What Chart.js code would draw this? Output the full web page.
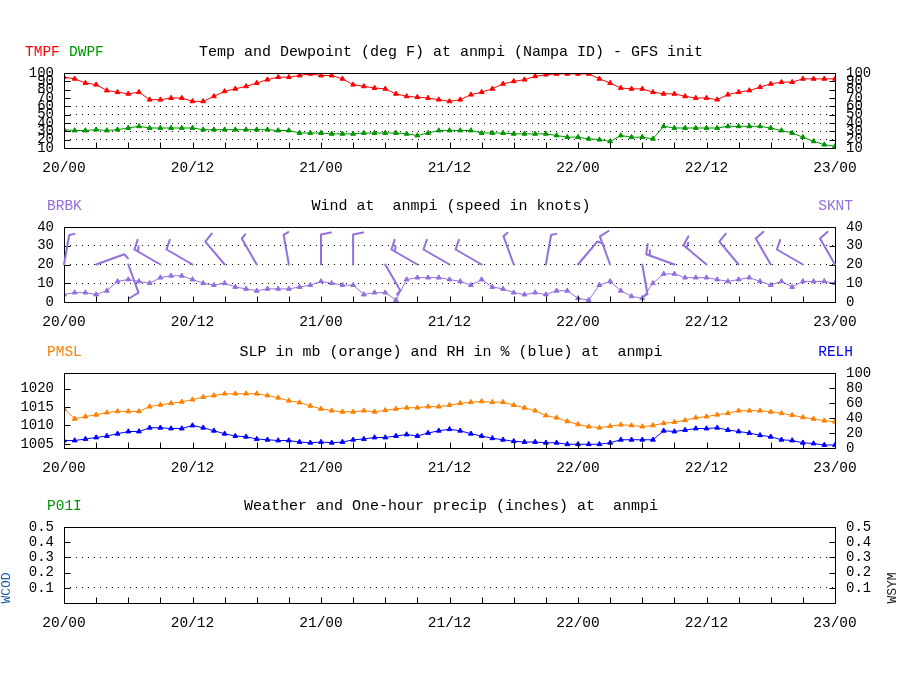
<!DOCTYPE html>
<html>
<head>
<meta charset="utf-8">
<script src="https://cdn.jsdelivr.net/npm/chart.js@4.4.1/dist/chart.umd.min.js"></script>
<style>
  body { margin: 0; background: #fff; width: 900px; height: 700px; position: relative; overflow: hidden; }
  canvas { position: absolute; left: 0; }
</style>
</head>
<body>
<canvas id="cTemp" width="900" height="148" style="top:30px"></canvas>
<canvas id="cVento" width="900" height="148" style="top:184px"></canvas>
<canvas id="cPressao" width="900" height="148" style="top:330px"></canvas>
<canvas id="cChuva" width="900" height="149" style="top:484px"></canvas>
<script>
// ==========================================
// DADOS (horário, 20/00 -> 23/00)
// ==========================================
const rotulosTempo = ['20/00', '20/12', '21/00', '21/12', '22/00', '22/12', '23/00'];

const tmpf = [95, 93, 88, 86, 79, 77, 75, 77, 68, 68, 70, 70, 66, 66, 72, 78, 81, 84, 88, 92,
              95, 95, 97, 99, 97, 97, 93, 86, 84, 82, 81, 75, 72, 71, 70, 68, 66,
              68, 74, 77, 81, 87, 90, 92, 96, 98, 99, 99, 99, 99, 93, 88, 82, 81, 81, 77, 75,
              75, 72, 70, 70, 68, 74, 77, 79, 83, 87, 89, 89, 93, 93, 93, 93];

const dwpf = [32, 31, 31, 32, 31, 32, 34, 36, 34, 34, 34, 34, 34, 32, 32, 32, 32, 32, 32, 32,
              31, 31, 28, 28, 28, 27, 27, 27, 28, 28, 28, 28, 27, 25, 28, 31, 31,
              31, 31, 28, 28, 28, 27, 27, 27, 27, 25, 23, 23, 21, 20, 18, 25, 23, 23, 21, 36,
              34, 34, 34, 34, 34, 36, 36, 36, 36, 34, 31, 28, 23, 18, 14, 12];

const sknt = [4, 5, 5, 4, 6, 11, 12, 11, 10, 13, 14, 14, 12, 10, 9, 10, 8, 7, 6, 7,
              7, 7, 8, 9, 11, 10, 9, 9, 4, 5, 5, 1, 12, 13, 13, 13, 12,
              11, 9, 12, 8, 7, 5, 4, 5, 4, 6, 6, 2, 1, 9, 11, 6, 3, 2, 10, 15,
              15, 13, 13, 13, 12, 11, 12, 13, 11, 9, 11, 8, 11, 11, 11, 10];

// direção do vento (graus) a cada 3 horas, para as barbelas
const drct = [10, 70, 160, 300, 300, 320, 330, 350, 0, 0, 150, 300, 300,
              300, 340, 10, 40, 340, 170, 290, 310, 320, 330, 300, 330];

const pmsl = [1014.5, 1011.8, 1012.4, 1012.9, 1013.5, 1013.8, 1013.8, 1013.8, 1015.1, 1015.6,
              1016.0, 1016.4, 1017.0, 1017.7, 1018.1, 1018.6, 1018.6, 1018.6, 1018.6, 1018.1,
              1017.5, 1016.7, 1016.2, 1015.3, 1014.5, 1014.0, 1013.7, 1013.7, 1014.0, 1013.7,
              1014.1, 1014.5, 1014.8, 1014.8, 1015.1, 1015.1, 1015.5,
              1016.0, 1016.3, 1016.5, 1016.3, 1016.3, 1015.5, 1014.8, 1014.0, 1012.7, 1012.1,
              1011.1, 1010.3, 1009.7, 1009.4, 1009.8, 1010.2, 1010.0, 1009.7, 1010.0, 1010.6,
              1010.9, 1011.4, 1012.1, 1012.4, 1012.9, 1013.3, 1014.0, 1014.0, 1014.0, 1013.7,
              1013.3, 1012.8, 1012.2, 1011.8, 1011.3, 1011.0];

const relh = [10, 10, 12, 14, 16, 19, 22, 22, 27, 27, 26, 26, 30, 27, 23, 19, 16, 15, 12, 11,
              10, 10, 8, 7, 8, 7, 8, 11, 12, 14, 14, 16, 18, 16, 20, 23, 25,
              23, 19, 16, 13, 11, 9, 8, 8, 7, 7, 5, 5, 5, 5, 7, 11, 11, 11, 11, 23,
              22, 24, 26, 26, 27, 24, 22, 20, 17, 15, 11, 10, 7, 6, 4, 4];

const p01i = []; // sem precipitação no período

const ticksPressao = [1005, 1010, 1015, 1020];

// ==========================================
// ESTILO
// ==========================================
const FONTE = 'Liberation Mono';
const VERMELHO = '#ff0000';
const VERDE = '#009600';
const ROXO = '#9370db';
const LARANJA = '#ff8000';
const AZUL = '#0000ff';

Chart.defaults.color = '#000';
Chart.defaults.font.family = FONTE;
Chart.defaults.font.size = 14;

const pontos = arr => arr.map((v, i) => ({ x: i, y: v }));

function serie(dados, cor, eixo) {
    return {
        data: pontos(dados),
        yAxisID: eixo || 'y',
        borderColor: cor,
        backgroundColor: cor,
        borderWidth: 1,
        pointStyle: 'triangle',
        pointRadius: 2.8,
        pointBorderWidth: 1,
        tension: 0
    };
}

function eixoX() {
    return {
        type: 'linear',
        min: 0,
        max: 72,
        afterFit: s => { s.height = 30; },
        grid: { display: false },
        border: { display: false },
        ticks: {
            stepSize: 3,
            autoSkip: false,
            maxRotation: 0,
            padding: 3,
            font: { size: 14.5 },
            callback: v => (v % 12 === 0 ? rotulosTempo[v / 12] : '')
        }
    };
}

function eixoY(lado, min, max, passo, linhasGrade, extra) {
    const e = {
        position: lado,
        min: min,
        max: max,
        afterFit: s => { s.width = lado === 'left' ? 64 : 65; },
        border: { display: false, dash: [1, 5] },
        grid: {
            display: lado === 'left',
            drawTicks: false,
            color: c => (c.tick && linhasGrade.some(g => Math.abs(g - c.tick.value) < 1e-6)) ? '#000' : 'rgba(0,0,0,0)'
        },
        ticks: {
            stepSize: passo,
            autoSkip: false,
            padding: lado === 'left' ? 10 : 11,
            font: { size: 14 },
            callback: v => String(v)
        }
    };
    return Object.assign(e, extra || {});
}

// moldura do gráfico + marcas de escala para dentro
const moldura = {
    id: 'moldura',
    afterDatasetsDraw(chart) {
        const { ctx, chartArea: a } = chart;
        const L = Math.round(a.left) + 0.5, R = Math.round(a.right) + 0.5;
        const T = Math.round(a.top) + 0.5, B = Math.round(a.bottom) + 0.5;
        ctx.save();
        ctx.strokeStyle = '#000';
        ctx.lineWidth = 1;
        ctx.setLineDash([]);
        ctx.beginPath();
        Object.values(chart.scales).forEach(s => {
            s.ticks.forEach(t => {
                const p = Math.round(s.getPixelForValue(t.value)) + 0.5;
                if (s.axis === 'x') {
                    if (t.value <= s.min || t.value >= s.max) return;
                    ctx.moveTo(p, B); ctx.lineTo(p, B - 6);
                } else {
                    if (t.value <= s.min + 1e-9 || t.value >= s.max - 1e-9) return;
                    if (s.position === 'left') { ctx.moveTo(L, p); ctx.lineTo(L + 6, p); }
                    else { ctx.moveTo(R, p); ctx.lineTo(R - 6, p); }
                }
            });
        });
        ctx.stroke();
        ctx.strokeRect(L, T, R - L, B - T);
        ctx.restore();
    }
};

// títulos e rótulos das variáveis
const painel = {
    id: 'painel',
    afterDraw(chart, args, opts) {
        const { ctx, chartArea: a } = chart;
        const y = a.top - 21;
        ctx.save();
        ctx.textBaseline = 'middle';
        ctx.font = '15px "' + FONTE + '"';
        ctx.fillStyle = '#000';
        ctx.textAlign = 'center';
        ctx.fillText(opts.titulo, 451, y);
        ctx.font = '14.5px "' + FONTE + '"';
        ctx.textAlign = 'left';
        (opts.esquerda || []).forEach(r => {
            ctx.fillStyle = r.cor;
            ctx.fillText(r.texto, r.x, y);
        });
        ctx.textAlign = 'right';
        (opts.direita || []).forEach(r => {
            ctx.fillStyle = r.cor;
            ctx.fillText(r.texto, r.x, y);
        });
        (opts.verticais || []).forEach(r => {
            ctx.save();
            ctx.font = '13px "' + FONTE + '"';
            ctx.fillStyle = r.cor;
            ctx.textAlign = 'center';
            ctx.translate(r.x, a.top + r.dy);
            ctx.rotate(-Math.PI / 2);
            ctx.fillText(r.texto, 0, 0);
            ctx.restore();
        });
        ctx.restore();
    }
};

// barbelas de vento a cada 3 horas, com base no nível de 20 kt
const barbelas = {
    id: 'barbelas',
    afterDatasetsDraw(chart) {
        const { ctx } = chart;
        const sx = chart.scales.x, sy = chart.scales.y;
        ctx.save();
        ctx.strokeStyle = ROXO;
        ctx.lineWidth = 2;
        ctx.lineCap = 'round';
        drct.forEach((dir, i) => {
            const h = i * 3;
            const x0 = sx.getPixelForValue(h);
            const y0 = sy.getPixelForValue(20);
            const r = dir * Math.PI / 180;
            const ux = Math.sin(r), uy = -Math.cos(r);
            const px = -uy, py = ux;
            const haste = 30;
            const xt = x0 + ux * haste, yt = y0 + uy * haste;
            ctx.beginPath();
            ctx.moveTo(x0, y0);
            ctx.lineTo(xt, yt);
            let n = Math.max(1, Math.round(sknt[h] / 5));
            let d = 0;
            while (n > 0) {
                const comp = n >= 2 ? 10 : 5;
                const bx = xt - ux * d, by = yt - uy * d;
                ctx.moveTo(bx, by);
                ctx.lineTo(bx + px * comp + ux * 2, by + py * comp + uy * 2);
                n -= n >= 2 ? 2 : 1;
                d += 4;
            }
            ctx.stroke();
        });
        ctx.restore();
    }
};

const baseOpcoes = {
    responsive: false,
    animation: false,
    layout: { padding: { top: 43, left: 0, right: 0, bottom: 0 } },
    plugins: { legend: { display: false }, tooltip: { enabled: false } }
};

function criarGrafico(id, datasets, scales, textos, extras) {
    return new Chart(document.getElementById(id), {
        type: 'line',
        data: { datasets: datasets },
        options: Object.assign({}, baseOpcoes, {
            scales: scales,
            plugins: Object.assign({}, baseOpcoes.plugins, { painel: textos })
        }),
        plugins: [moldura, painel].concat(extras || [])
    });
}

// ==========================================
// 1. TEMPERATURA E PONTO DE ORVALHO
// ==========================================
criarGrafico('cTemp',
    [serie(tmpf, VERMELHO), serie(dwpf, VERDE)],
    {
        x: eixoX(),
        y: eixoY('left', 10, 100, 10, [20, 30, 40, 50, 60]),
        y2: eixoY('right', 10, 100, 10, [])
    },
    {
        titulo: 'Temp and Dewpoint (deg F) at anmpi (Nampa ID) - GFS init',
        esquerda: [{ texto: 'TMPF', cor: VERMELHO, x: 25 }, { texto: 'DWPF', cor: VERDE, x: 69 }]
    });

// ==========================================
// 2. VENTO
// ==========================================
criarGrafico('cVento',
    [serie(sknt, ROXO)],
    {
        x: eixoX(),
        y: eixoY('left', 0, 40, 10, [10, 20, 30]),
        y2: eixoY('right', 0, 40, 10, [])
    },
    {
        titulo: 'Wind at  anmpi (speed in knots)',
        esquerda: [{ texto: 'BRBK', cor: ROXO, x: 47 }],
        direita: [{ texto: 'SKNT', cor: ROXO, x: 853 }]
    },
    [barbelas]);

// ==========================================
// 3. PRESSÃO E UMIDADE RELATIVA
// ==========================================
criarGrafico('cPressao',
    [serie(pmsl, LARANJA, 'y'), serie(relh, AZUL, 'y2')],
    {
        x: eixoX(),
        y: eixoY('left', 1003.9, 1024.2, 5, [], {
            afterBuildTicks: s => { s.ticks = ticksPressao.map(v => ({ value: v })); }
        }),
        y2: eixoY('right', 0, 100, 20, [])
    },
    {
        titulo: 'SLP in mb (orange) and RH in % (blue) at  anmpi',
        esquerda: [{ texto: 'PMSL', cor: LARANJA, x: 47 }],
        direita: [{ texto: 'RELH', cor: AZUL, x: 853 }]
    });

// ==========================================
// 4. TEMPO E PRECIPITAÇÃO HORÁRIA
// ==========================================
const rotuloChuva = v => (v < 0.05 ? '' : v.toFixed(1));
const eixoChuvaE = eixoY('left', 0, 0.5, 0.1, [0.1, 0.3]);
eixoChuvaE.ticks.callback = rotuloChuva;
const eixoChuvaD = eixoY('right', 0, 0.5, 0.1, []);
eixoChuvaD.ticks.callback = rotuloChuva;

criarGrafico('cChuva',
    [serie(p01i, VERDE)],
    { x: eixoX(), y: eixoChuvaE, y2: eixoChuvaD },
    {
        titulo: 'Weather and One-hour precip (inches) at  anmpi',
        esquerda: [{ texto: 'P01I', cor: VERDE, x: 47 }],
        verticais: [
            { texto: 'WCOD', cor: '#1f5fa8', x: 7, dy: 61 },
            { texto: 'WSYM', cor: '#202030', x: 893, dy: 61 }
        ]
    });
</script>
</body>
</html>
